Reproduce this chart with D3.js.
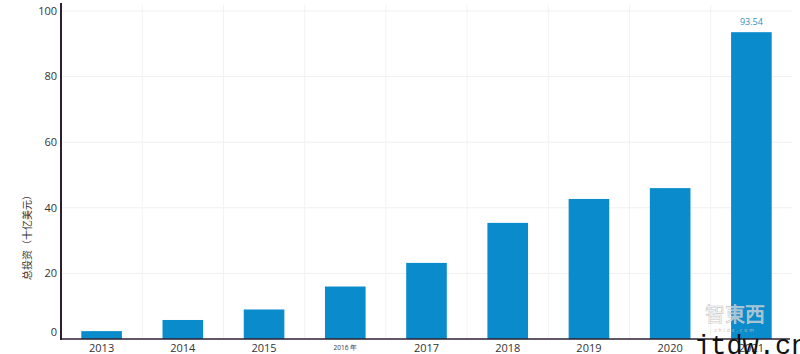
<!DOCTYPE html>
<html><head><meta charset="utf-8">
<script src="https://cdn.jsdelivr.net/npm/d3@7"></script>
<style>body{margin:0;background:#fff;}svg{display:block;font-family:"Open Sans","Noto Sans",sans-serif;}</style>
</head><body>
<svg id="c" width="800" height="354"></svg>
<script>
const years = ["2013","2014","2015","2016 年","2017","2018","2019","2020","2021"];
const values = [2.4, 5.8, 9.0, 16.0, 23.2, 35.4, 42.7, 46.0, 93.54];
const yTicks = [0, 20, 40, 60, 80, 100];
const yTitle = "总投资（十亿美元）";

const svg = d3.select("#c");
const x0 = 61, x1 = 792, yBase = 339, yTop = 11;
const x = d3.scaleBand().domain(years).range([x0, x1]).paddingInner(0.5).paddingOuter(0.25);
const y = d3.scaleLinear().domain([0, 100]).range([yBase, yTop]);

svg.append("g").selectAll("line").data(yTicks.filter(d => d > 0)).join("line")
  .attr("x1", x0).attr("x2", x1).attr("y1", d => y(d)).attr("y2", d => y(d))
  .attr("stroke", "#f0f0f0").attr("stroke-width", 1);
const step = x.step();
svg.append("g").selectAll("line").data(years.slice(1)).join("line")
  .attr("x1", d => x(d) + x.bandwidth()/2 - step/2).attr("x2", d => x(d) + x.bandwidth()/2 - step/2)
  .attr("y1", 5).attr("y2", yBase)
  .attr("stroke", "#f2f2f2").attr("stroke-width", 1);

svg.append("g").selectAll("rect").data(values).join("rect")
  .attr("x", (d, i) => x(years[i])).attr("width", x.bandwidth())
  .attr("y", d => y(d)).attr("height", d => yBase - y(d))
  .attr("fill", "#0a8bcb");

const li = values.length - 1;
svg.append("text").attr("x", x(years[li]) + x.bandwidth()/2).attr("y", y(values[li]) - 7)
  .attr("text-anchor", "middle").attr("font-size", 9).attr("fill", "#3a8fc4").text(values[li].toFixed(2));

svg.append("g").selectAll("text").data(yTicks).join("text")
  .attr("x", 57).attr("y", d => d === 0 ? 332 : y(d))
  .attr("dy", "0.35em").attr("text-anchor", "end").attr("font-size", 11).attr("fill", "#333")
  .text(d => d);

svg.append("line").attr("x1", x0).attr("x2", x0).attr("y1", 3).attr("y2", yBase + 1)
  .attr("stroke", "#2e1f30").attr("stroke-width", 2);
svg.append("line").attr("x1", x0).attr("x2", 790).attr("y1", yBase).attr("y2", yBase)
  .attr("stroke", "#2e1f30").attr("stroke-width", 1.5);

svg.append("g").selectAll("text").data(years).join("text")
  .attr("x", d => x(d) + x.bandwidth()/2)
  .attr("y", d => d.includes("年") ? 350 : 352)
  .attr("text-anchor", "middle")
  .attr("font-size", d => d.includes("年") ? 6.5 : 11)
  .attr("fill", "#333").text(d => d);

svg.append("text").attr("transform", "translate(31,235) rotate(-90)")
  .attr("text-anchor", "middle").attr("font-size", 10).attr("fill", "#333")
  .attr("font-family", "'Noto Sans CJK SC',sans-serif").text(yTitle);

// watermarks
svg.append("text").attr("x", 735).attr("y", 322).attr("text-anchor", "middle")
  .attr("font-size", 20).attr("fill", "#ffffff").attr("fill-opacity", 0.55)
  .attr("stroke", "#c8c8c8").attr("stroke-width", 0.6)
  .attr("font-family", "'Noto Sans CJK TC',sans-serif").text("智東西");
svg.append("text").attr("x", 735).attr("y", 332).attr("text-anchor", "middle")
  .attr("font-size", 5).attr("fill", "#bbb").attr("letter-spacing", 2).text("zhidx.com");
svg.append("text").attr("x", 694).attr("y", 354).attr("font-size", 27)
  .attr("font-family", "'Liberation Mono','DejaVu Sans Mono',monospace").attr("fill", "#111").text("jtdw.cn");
</script>
</body></html>
